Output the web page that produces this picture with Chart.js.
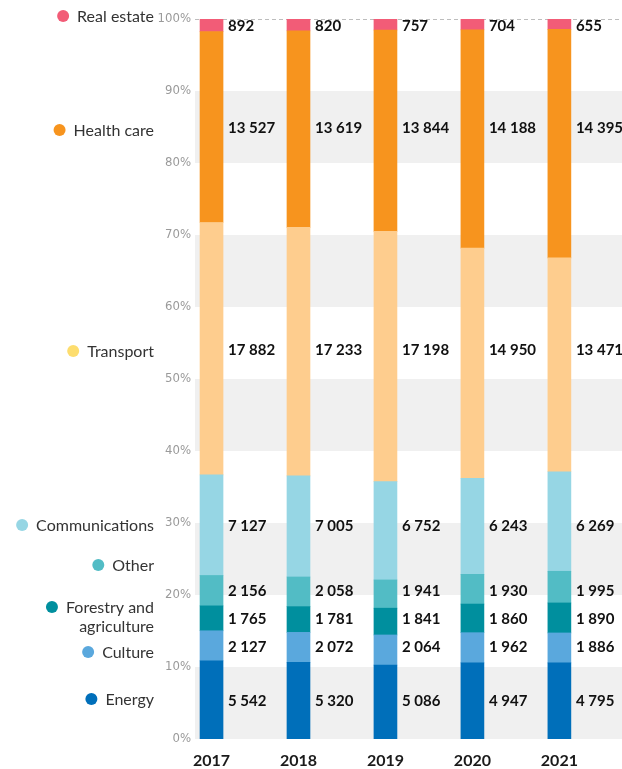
<!DOCTYPE html>
<html>
<head>
<meta charset="utf-8">
<script src="https://cdn.jsdelivr.net/npm/chart.js@4.4.0/dist/chart.umd.min.js"></script>
<style>
html,body{margin:0;padding:0;background:#fff;}
#wrap{width:622px;height:769px;position:relative;}
</style>
</head>
<body>
<div id="wrap"><canvas id="c" width="622" height="769"></canvas></div>
<script>
const years = [2017, 2018, 2019, 2020, 2021];
const seriesNames = ["Energy", "Culture", "Forestry and agriculture", "Other", "Communications", "Transport", "Health care", "Real estate"];
const energy = [5542, 5320, 5086, 4947, 4795];
const culture = [2127, 2072, 2064, 1962, 1886];
const forestry = [1765, 1781, 1841, 1860, 1890];
const other = [2156, 2058, 1941, 1930, 1995];
const communications = [7127, 7005, 6752, 6243, 6269];
const transport = [17882, 17233, 17198, 14950, 13471];
const healthCare = [13527, 13619, 13844, 14188, 14395];
const realEstate = [892, 820, 757, 704, 655];
const yTicks = [0, 10, 20, 30, 40, 50, 60, 70, 80, 90, 100];

const seriesValues = [energy, culture, forestry, other, communications, transport, healthCare, realEstate];
const barColors = ["#006fba", "#5aa8dd", "#008f9e", "#52bcc5", "#96d6e4", "#fecd8e", "#f7941e", "#f25c77"];
const dotColors = ["#006fba", "#5aa8dd", "#008f9e", "#52bcc5", "#96d6e4", "#fddd6e", "#f7941e", "#f25c77"];

const totals = years.map((y, i) => seriesValues.reduce((s, arr) => s + arr[i], 0));

const datasets = seriesNames.map((name, k) => ({
  label: name,
  data: years.map((y, i) => ({ x: y, y: seriesValues[k][i] / totals[i] * 100, raw: seriesValues[k][i] })),
  backgroundColor: barColors[k],
  borderWidth: 0,
  barThickness: 23
}));

const fmt = n => String(n).replace(/\B(?=(\d{3})+(?!\d))/g, " ");

// side legend layout (pixel positions)
const legendLayout = [
  { k: 7, lines: ["Real estate"], y: 17 },
  { k: 6, lines: ["Health care"], y: 131 },
  { k: 5, lines: ["Transport"], y: 352 },
  { k: 4, lines: ["Communications"], y: 526 },
  { k: 3, lines: ["Other"], y: 566 },
  { k: 2, lines: ["Forestry and", "agriculture"], y: 608 },
  { k: 1, lines: ["Culture"], y: 653 },
  { k: 0, lines: ["Energy"], y: 700 }
];

const bgPlugin = {
  id: "bg",
  beforeDatasetsDraw(chart) {
    const ctx = chart.ctx, y = chart.scales.y, a = chart.chartArea;
    ctx.save();
    ctx.fillStyle = "#f0f0f0";
    for (let v = 0; v < 100; v += 20) {
      const top = y.getPixelForValue(v + 10), bot = y.getPixelForValue(v);
      ctx.fillRect(a.left, top, chart.width - a.left, bot - top);
    }
    ctx.strokeStyle = "#bdbdbd";
    ctx.lineWidth = 1;
    ctx.setLineDash([4, 3]);
    const t = Math.round(y.getPixelForValue(100)) + 0.5;
    ctx.beginPath();
    ctx.moveTo(a.left, t);
    ctx.lineTo(chart.width, t);
    ctx.stroke();
    ctx.restore();
  },
  afterDatasetsDraw(chart) {
    const ctx = chart.ctx;
    ctx.save();
    ctx.font = "bold 15px Lato";
    ctx.fillStyle = "#111";
    ctx.textAlign = "left";
    ctx.textBaseline = "middle";
    chart.data.datasets.forEach((ds, k) => {
      const meta = chart.getDatasetMeta(k);
      const first = meta.data[0];
      const rowY = (first.y + first.base) / 2 + 1;
      meta.data.forEach((el, i) => {
        ctx.fillText(fmt(ds.data[i].raw), el.x + el.width / 2 + 5, rowY);
      });
    });
    // side legend
    ctx.font = "16px Lato";
    ctx.textAlign = "right";
    const right = 154;
    legendLayout.forEach(it => {
      it.lines.forEach((ln, j) => {
        ctx.fillStyle = "#333";
        ctx.fillText(ln, right, it.y + j * 19);
      });
      const w = ctx.measureText(it.lines[0]).width;
      ctx.beginPath();
      ctx.fillStyle = dotColors[it.k];
      ctx.arc(right - w - 14, it.y - 1, 6, 0, Math.PI * 2);
      ctx.fill();
    });
    ctx.restore();
  }
};

new Chart(document.getElementById("c"), {
  type: "bar",
  data: { datasets },
  options: {
    responsive: false,
    animation: false,
    devicePixelRatio: 1,
    layout: { padding: { left: 155, top: 19, right: 0, bottom: 0 } },
    plugins: { legend: { display: false }, tooltip: { enabled: false } },
    scales: {
      x: {
        type: "linear",
        stacked: true,
        offset: false,
        min: 2016.81,
        max: 2021.72,
        afterBuildTicks(scale) { scale.ticks = years.map(v => ({ value: v })); },
        ticks: {
          callback: v => String(v),
          font: { family: "Lato", weight: "bold", size: 16 },
          color: "#1a1a1a",
          padding: 12,
          maxRotation: 0,
          autoSkip: false
        },
        grid: { display: false, drawTicks: false, offset: false },
        border: { display: false },
        afterFit(scale) { scale.height = 30; }
      },
      y: {
        stacked: true,
        min: 0,
        max: 100,
        afterBuildTicks(scale) { scale.ticks = yTicks.map(v => ({ value: v })); },
        ticks: {
          callback: v => v + "%",
          font: { family: "'Liberation Sans Narrow', 'DejaVu Sans Condensed', Lato", size: 13 },
          color: "#9a9a9a",
          padding: 4
        },
        grid: { display: false, drawTicks: false },
        border: { display: false },
        afterFit(scale) { scale.width = 40; }
      }
    }
  },
  plugins: [bgPlugin]
});
</script>
</body>
</html>
